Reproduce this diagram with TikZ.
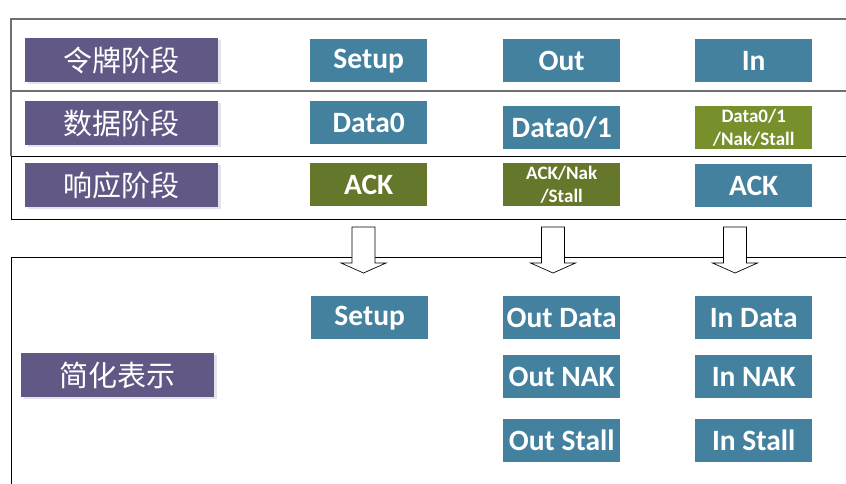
\documentclass[tikz,border=0pt]{standalone}
\usepackage{fontspec}
\setmainfont{Carlito}
\newfontfamily\cjk{Noto Sans CJK SC}
\usetikzlibrary{shadows,calc}
\definecolor{pur}{HTML}{625885}
\definecolor{purshadow}{HTML}{E4E2EC}
\definecolor{blu}{HTML}{43819F}
\definecolor{oliveA}{HTML}{65772A}
\definecolor{oliveB}{HTML}{77902C}
\definecolor{frameGray}{HTML}{707070}
\tikzset{
  base/.style={anchor=north west, inner sep=0pt, text=white, align=center,
    font=\bfseries\fontsize{29.5}{31}\selectfont},
  phase/.style={base, fill=pur, minimum width=193pt, minimum height=44pt,
    font=\cjk\fontsize{29}{31}\selectfont,
    drop shadow={shadow xshift=3pt, shadow yshift=-2pt, fill=purshadow, opacity=1}},
  bbox/.style={base, fill=blu, minimum width=117pt, minimum height=43pt},
  obox/.style={base, fill=oliveA, minimum width=117pt, minimum height=43pt},
  small/.style={font=\bfseries\fontsize{19}{23}\selectfont},
  frame/.style={draw=black, line width=0.9pt},
  gframe/.style={draw=frameGray, line width=1.4pt},
  blockarrow/.style={draw=black, fill=white, line width=0.7pt, line join=miter}
}
\begin{document}
\begin{tikzpicture}[x=1pt, y=-1pt]
\useasboundingbox (0,0) rectangle (846,483);
\clip (0,0) rectangle (846,483);
% top frame
\draw[frame] (11,156) -- (11,219) -- (860,219);
\draw[frame] (11,156) -- (860,156);
\draw[gframe] (11,156) -- (11,19) -- (860,19);
\draw[gframe] (11,91) -- (860,91);
% bottom frame
\draw[frame] (11,500) -- (11,257) -- (860,257);
% phase labels
\node[phase] (p1) at (25,38) {令牌阶段};
\node[phase] (p2) at (25,101) {数据阶段};
\node[phase] (p3) at (25,163) {响应阶段};
\node[phase] (p4) at (21,353) {简化表示};
% row 1
\node[bbox] (setup) at (310,39) {Setup};
\node[bbox] (out) at (503,39) {Out};
\node[bbox] (in) at (695,39) {In};
% row 2
\node[bbox] (data0) at (310,101) {Data0};
\node[bbox] (data01) at (503,106) {Data0/1};
\node[obox, fill=oliveB, small] (data01n) at (695,106) {Data0/1\\/Nak/Stall};
% row 3
\node[obox] (ack1) at (310,163) {ACK};
\node[obox, small] (ack2) at (503,163) {ACK/Nak\\/Stall};
\node[bbox] (ack3) at (695,164) {ACK};
% block arrows
\foreach \cx/\nm in {363.5/a1, 553/a2, 735/a3}{
  \coordinate (\nm) at (\cx,227);
  \draw[blockarrow] ($(\nm)+(-11.5,0)$) -- ++(23,0) -- ++(0,36) -- ++(11,0)
     -- ($(\nm)+(0,46)$) -- ($(\nm)+(-22.5,36)$) -- ++(11,0) -- cycle;
}
% simplified
\node[bbox] (ssetup) at (311,296) {Setup};
\node[bbox] (outdata) at (503,296) {Out Data};
\node[bbox] (indata) at (695,296) {In Data};
\node[bbox] (outnak) at (503,355) {Out NAK};
\node[bbox] (innak) at (695,355) {In NAK};
\node[bbox] (outstall) at (503,419) {Out Stall};
\node[bbox] (install) at (695,419) {In Stall};
\end{tikzpicture}
\end{document}
